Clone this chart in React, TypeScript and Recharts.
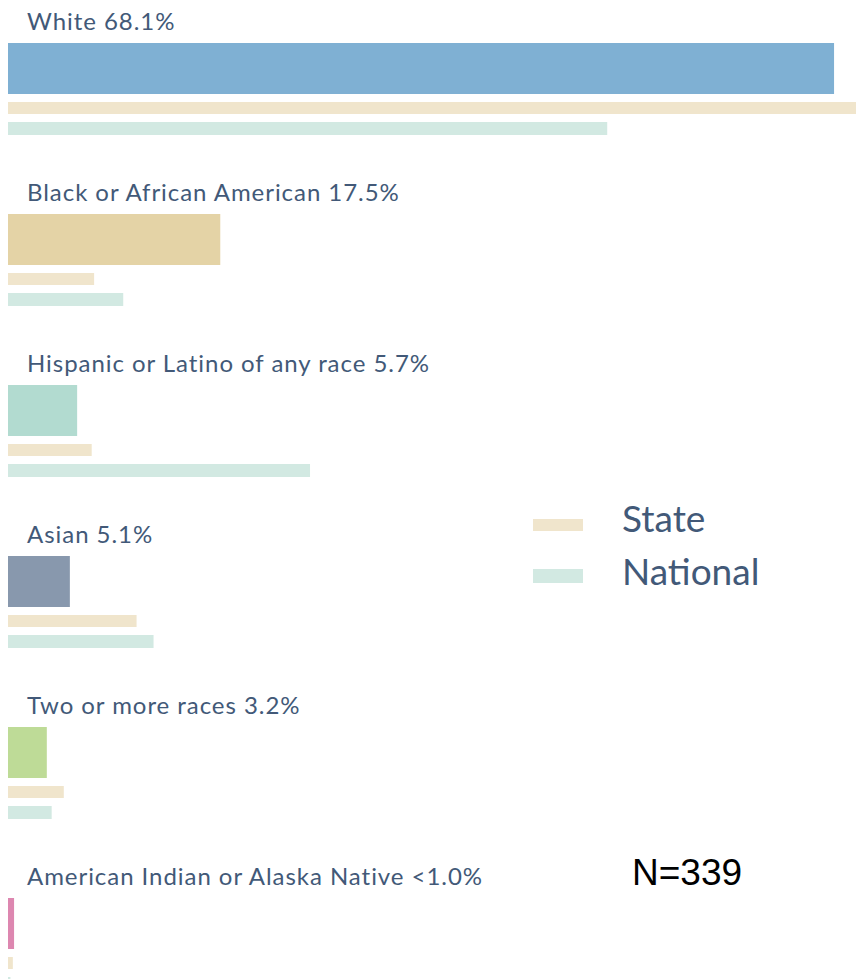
import { BarChart, Bar, XAxis, YAxis, Cell, LabelList, Legend } from "recharts";

const groups = ["White", "Black or African American", "Hispanic or Latino of any race", "Asian", "Two or more races", "American Indian or Alaska Native"];
const shownShare = ["68.1%", "17.5%", "5.7%", "5.1%", "3.2%", "<1.0%"];
const shareValues = [68.1, 17.5, 5.7, 5.1, 3.2, 0.5];
const stateValues = [70, 7.1, 6.9, 10.6, 4.6, 0.4];
const nationalValues = [49.4, 9.5, 24.9, 12.0, 3.6, 0.2];
const groupColors = ["#7fb0d3", "#e4d3a6", "#b2dbd0", "#8898ad", "#bedb97", "#dd87b0"];
const sampleNote = "N=339";

const data = groups.map((name, i) => ({
  name,
  label: `${name} ${shownShare[i]}`,
  share: shareValues[i],
  state: stateValues[i],
  national: nationalValues[i],
}));

const TEXT = "#425978";
const PX_PER_PCT = 12.13;
const CHART_W = 900;

function GroupLabel(props: any) {
  const { y, value } = props;
  return (
    <text x={19} y={y - 13} fill={TEXT} fontSize={24} letterSpacing={0.95} fontFamily="Lato, sans-serif">
      {value}
    </text>
  );
}

function KeyBox() {
  return (
    <svg width={300} height={420}>
      <rect x={5} y={27} width={50} height={12} fill="#f0e5cc" />
      <rect x={5} y={77} width={50} height={14} fill="#d2e9e2" />
      <text x={94} y={40} fill={TEXT} fontSize={37} fontFamily="Lato, sans-serif">State</text>
      <text x={94} y={93} fill={TEXT} fontSize={37} fontFamily="Lato, sans-serif">National</text>
      <text x={104} y={393} fill="#000" fontSize={37} fontFamily="'Liberation Sans', sans-serif">{sampleNote}</text>
    </svg>
  );
}

export default function App() {
  return (
    <div style={{ position: "absolute", left: 8, top: 0, width: 848, height: 979, overflow: "hidden" }}>
      <div style={{ position: "absolute", left: 0, top: 3 }}>
        <BarChart
          width={CHART_W}
          height={1026}
          data={data}
          layout="vertical"
          margin={{ top: 0, right: 0, bottom: 0, left: 0 }}
          barGap={8}
        >
          <XAxis type="number" hide domain={[0, CHART_W / PX_PER_PCT]} allowDataOverflow />
          <YAxis type="category" dataKey="name" hide />
          <Legend
            layout="vertical"
            align="center"
            verticalAlign="middle"
            content={() => <KeyBox />}
            wrapperStyle={{ left: 520, top: 489, width: 300, height: 420 }}
          />
          <Bar dataKey="share" barSize={51} isAnimationActive={false}>
            {data.map((d, i) => (
              <Cell key={d.name} fill={groupColors[i]} />
            ))}
            <LabelList dataKey="label" content={GroupLabel} />
          </Bar>
          <Bar dataKey="state" barSize={12} fill="#f0e5cc" isAnimationActive={false} />
          <Bar dataKey="national" barSize={13} fill="#d2e9e2" isAnimationActive={false} />
        </BarChart>
      </div>
    </div>
  );
}
